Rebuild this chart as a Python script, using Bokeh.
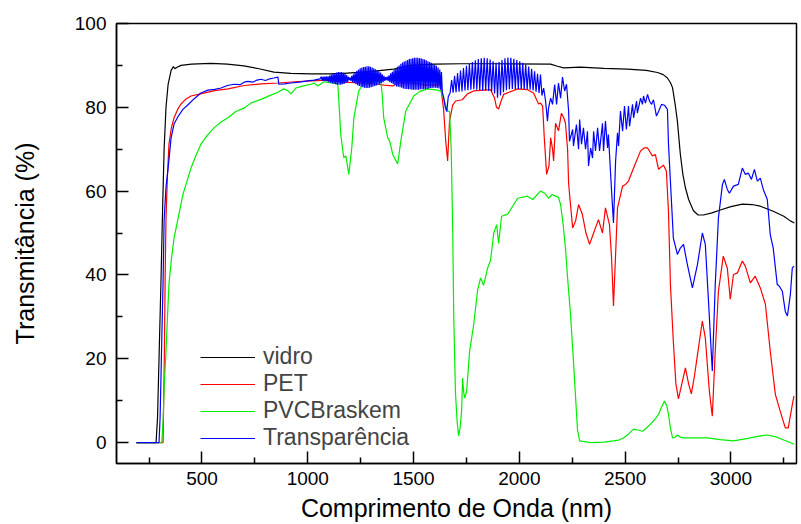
from bokeh.plotting import figure
from bokeh.models import Range1d, FixedTicker, Legend, LegendItem
from bokeh.embed import file_html
from bokeh.resources import INLINE

# ---------------- data ----------------
x_ticks = [500, 1000, 1500, 2000, 2500, 3000]
x_minor = [250, 750, 1250, 1750, 2250, 2750, 3250]
y_ticks = [0, 20, 40, 60, 80, 100]
y_minor = [10, 30, 50, 70, 90]

vidro_x = [190, 283, 290, 298, 306, 314, 321, 330, 340, 354, 365, 372, 380, 401, 450, 542, 620, 698, 770, 840,
           920, 1015, 1100, 1170, 1290, 1406, 1487, 1600, 1723, 1900, 2148, 2180, 2209, 2289, 2400, 2511, 2600,
           2653, 2680, 2700, 2715, 2724, 2737, 2747, 2761, 2773, 2785, 2800, 2823, 2845, 2870, 2910, 2950, 3000,
           3054, 3100, 3139, 3200, 3250, 3281, 3300]
vidro_y = [0, 0, 6, 22, 38, 56, 70, 80, 85.5, 88.8, 89.7, 89.2, 89.5, 90.0, 90.3, 90.5, 90.3, 89.9, 89.2, 88.4,
           88.1, 88.0, 88.0, 88.1, 88.5, 89.1, 90.0, 90.3, 90.4, 90.4, 90.3, 89.8, 89.4, 89.6, 89.3, 89.1, 88.8,
           88.3, 87.8, 87.0, 85.8, 84.7, 80.5, 76.7, 68.8, 64.0, 60.8, 58.0, 55.3, 54.3, 54.3, 54.8, 55.5, 56.3,
           56.9, 56.8, 56.4, 55.2, 54.0, 52.9, 52.4]

pet_x = [190, 316, 322, 326, 330, 337, 344, 355, 368, 385, 401, 425, 448, 509, 560, 623, 700, 780, 859, 940,
         1015, 1095, 1130, 1170, 1250, 1331, 1360, 1402, 1425, 1487, 1560, 1628, 1642, 1652, 1661, 1670, 1685,
         1699, 1730, 1755, 1784, 1864, 1883, 1892, 1902, 1914, 1926, 1992, 2039, 2067, 2091, 2100, 2110, 2118,
         2129, 2140, 2148, 2157, 2162, 2171, 2185, 2199, 2210, 2218, 2228, 2233, 2252, 2266, 2280, 2298, 2315,
         2332, 2351, 2374, 2393, 2407, 2426, 2436, 2445, 2455, 2464, 2488, 2500, 2516, 2540, 2573, 2590, 2606,
         2629, 2643, 2658, 2681, 2695, 2705, 2714, 2728, 2740, 2752, 2768, 2785, 2800, 2813, 2828, 2842, 2865,
         2879, 2898, 2912, 2926, 2941, 2964, 2983, 2997, 3012, 3031, 3054, 3068, 3092, 3115, 3139, 3163, 3186,
         3210, 3233, 3257, 3271, 3290, 3298]
pet_y = [0, 0, 20, 40, 53.6, 64, 71.2, 75, 77.5, 79.5, 80.8, 82, 82.7, 83.4, 84.0, 84.4, 85.2, 85.6, 85.8, 86.1,
         86.3, 86.5, 86.3, 86.0, 85.8, 85.5, 85.3, 85.1, 85.8, 85.8, 85.3, 85.3, 79.5, 72, 67.2, 76.7, 80.5,
         81.5, 81.8, 83.2, 83.9, 84.2, 82.2, 80.0, 79.6, 81.5, 83.1, 84.4, 84.2, 83.4, 80.8, 81.0, 80.3, 72.7,
         64.0, 66.0, 72.7, 70.0, 67.2, 76.2, 74.4, 78.6, 77.5, 76.2, 70.0, 61.7, 51.2, 52.9, 56.8, 54.4, 50.0,
         47.3, 50.0, 53.2, 50.0, 56.0, 52.0, 44.0, 32.6, 45.0, 56.0, 61.2, 61.5, 62.4, 65.5, 69.6, 70.3, 70.3,
         68.4, 68.7, 65.2, 66.2, 64.8, 55.0, 37.8, 24.0, 14.0, 10.4, 14.0, 17.8, 14.0, 11.6, 16.0, 21.0, 29.0,
         25.0, 12.3, 6.3, 21.8, 36.1, 44.5, 41.6, 34.2, 40.1, 40.5, 43.3, 42.1, 38.1, 39.7, 36.9, 33.0, 21.8,
         11.5, 7.5, 3.5, 3.5, 9.0, 11.1]

pvc_x = [190, 310, 316, 322, 330, 337, 344, 356, 368, 387, 410, 430, 448, 470, 495, 525, 557, 590, 623, 660,
         698, 731, 779, 820, 859, 887, 905, 920, 944, 980, 1015, 1029, 1048, 1076, 1100, 1123, 1142, 1147, 1156,
         1170, 1180, 1194, 1208, 1218, 1241, 1260, 1300, 1345, 1352, 1359, 1378, 1387, 1402, 1425, 1440, 1463,
         1501, 1530, 1567, 1614, 1630, 1642, 1660, 1670, 1678, 1685, 1690, 1698, 1706, 1713, 1720, 1727, 1732,
         1737, 1742, 1751, 1765, 1784, 1803, 1817, 1831, 1850, 1864, 1879, 1893, 1902, 1916, 1945, 1970, 1992,
         2039, 2063, 2100, 2120, 2138, 2155, 2171, 2185, 2195, 2207, 2218, 2230, 2242, 2255, 2266, 2275, 2285,
         2337, 2400, 2445, 2470, 2492, 2515, 2540, 2560, 2582, 2600, 2620, 2640, 2658, 2672, 2686, 2697, 2705,
         2714, 2724, 2735, 2747, 2760, 2776, 2830, 2889, 2950, 3012, 3080, 3140, 3172, 3210, 3250, 3281, 3298]
pvc_y = [0, 0, 5, 14, 21.8, 30, 37.8, 44, 48.8, 53.5, 59.2, 62.5, 65.5, 68.3, 71.2, 73.3, 75.1, 76.5, 77.5, 79.0,
         79.8, 81.0, 81.9, 82.8, 83.6, 84.4, 84.0, 83.2, 84.6, 85.1, 85.5, 85.8, 85.1, 86.1, 85.9, 85.8, 85.5, 81.5,
         73.5, 68.0, 68.4, 64.0, 70.3, 77.5, 83.9, 85.5, 86.0, 86.3, 83.0, 77.5, 72.7, 72.0, 68.7, 66.5, 72.0, 79.1,
         82.7, 83.8, 84.4, 84.1, 83.8, 82.2, 79.1, 79.0, 70.0, 51.0, 30.0, 12.0, 5.0, 1.6, 3.5, 7.5, 15.4,
         12.0, 10.6, 12.3, 21.8, 28.0, 36.5, 39.3, 37.5, 41.6, 43.5, 50.0, 52.0, 47.5, 54.0, 54.5, 56.5, 58.3,
         58.8, 58.0, 60.0, 59.5, 58.3, 59.2, 58.8, 58.5, 56.8, 52.0, 46.4, 38.0, 30.5, 20.0, 10.6, 3.0, 0.4,
         0.0, 0.1, 0.4, 0.6, 1.1, 2.0, 3.2, 3.0, 2.7, 3.4, 4.4, 5.5, 6.7, 8.5, 9.9, 8.7, 6.7,
         3.5, 1.1, 1.2, 1.8, 1.3, 1.1, 1.1, 1.1, 0.7, 0.4, 1.0, 1.6, 1.8, 1.4, 0.6, 0.0, -0.4]

# Transparência: smooth start
trans_x_a = [190, 297, 302, 306, 311, 316, 321, 330, 340, 354, 368, 387, 410, 434, 462, 495, 528, 560, 590, 620,
             651, 680, 700, 717, 740, 760, 779, 800, 820, 840, 859, 863, 890, 920, 960, 1000, 1030, 1058]
trans_y_a = [0, 0, 6, 15, 27, 38, 53, 61, 65.5, 72.7, 76, 77.8, 79.5, 80.6, 82, 83.4, 84.1, 84.3, 84.6, 85.2,
             85.5, 85.4, 86.0, 86.2, 86.0, 86.5, 86.7, 86.4, 86.8, 87.0, 87.2, 85.5, 85.6, 85.8, 86.0, 86.3, 86.5, 86.8]
# Transparência: dense interference fringes (1064-1664 nm), (wavelength, T) pairs
trans_b = [
    (1064, 87.3), (1068, 86.3), (1072, 87.3), (1076, 86.3), (1080, 87.3), (1084, 86.3), (1088, 87.4), (1092, 86.2),
    (1096, 87.4), (1100, 86.0), (1104, 87.6), (1108, 85.9), (1112, 87.8), (1116, 85.7), (1120, 88.0), (1124, 85.6),
    (1128, 88.1), (1132, 85.5), (1136, 88.3), (1140, 85.4), (1144, 88.4), (1148, 85.4), (1152, 88.4), (1156, 85.4),
    (1160, 88.4), (1164, 85.5), (1168, 88.3), (1172, 85.6), (1176, 88.0), (1180, 85.8), (1184, 87.7), (1188, 86.0),
    (1192, 87.3), (1196, 86.5), (1200, 87.1), (1204, 86.3), (1208, 87.5), (1212, 86.0), (1216, 87.9), (1220, 85.8),
    (1224, 88.3), (1228, 85.5), (1232, 88.7), (1236, 85.3), (1240, 89.0), (1244, 85.1), (1248, 89.3), (1252, 85.0),
    (1256, 89.5), (1260, 84.8), (1264, 89.6), (1268, 84.7), (1272, 89.7), (1276, 84.6), (1280, 89.8), (1284, 84.6),
    (1288, 89.8), (1292, 84.7), (1296, 89.7), (1300, 84.8), (1304, 89.5), (1308, 84.9), (1312, 89.3), (1316, 85.1),
    (1320, 89.1), (1324, 85.2), (1328, 88.9), (1332, 85.4), (1336, 88.6), (1340, 85.6), (1344, 88.3), (1348, 85.8),
    (1352, 87.9), (1356, 86.0), (1360, 87.5), (1364, 86.3), (1368, 87.2), (1372, 86.5), (1376, 87.3), (1380, 86.3),
    (1384, 87.6), (1388, 86.0), (1392, 88.1), (1396, 85.8), (1400, 88.5), (1404, 85.6), (1408, 88.9), (1412, 85.3),
    (1416, 89.3), (1420, 85.0), (1424, 89.7), (1428, 84.9), (1432, 90.0), (1436, 84.8), (1440, 90.4), (1444, 84.7),
    (1448, 90.7), (1452, 84.5), (1456, 90.9), (1460, 84.4), (1464, 91.1), (1468, 84.4), (1472, 91.3), (1476, 84.3),
    (1480, 91.5), (1484, 84.3), (1488, 91.6), (1492, 84.2), (1496, 91.7), (1500, 84.2), (1504, 91.8), (1508, 84.2),
    (1512, 91.8), (1516, 84.2), (1520, 91.8), (1524, 84.2), (1528, 91.7), (1532, 84.3), (1536, 91.7), (1540, 84.3),
    (1544, 91.5), (1548, 84.3), (1552, 91.4), (1556, 84.4), (1560, 91.2), (1564, 84.4), (1568, 91.0), (1572, 84.5),
    (1576, 90.8), (1580, 84.6), (1584, 90.6), (1588, 84.6), (1592, 90.4), (1596, 84.7), (1600, 90.1), (1604, 84.7),
    (1608, 89.9), (1612, 84.6), (1616, 89.5), (1620, 84.5), (1624, 89.0), (1628, 84.2), (1632, 88.4), (1636, 83.5),
    (1642, 82.5), (1650, 80.0), (1657, 79.0), (1664, 82.5)]
trans_x_b = [w for w, t in trans_b]
trans_y_b = [t for w, t in trans_b]
# Transparência: resolved fringes (1673-2107 nm)
trans_x_c = [1673, 1680, 1687, 1694, 1701, 1708, 1715, 1722, 1729, 1736, 1743, 1750, 1757, 1764, 1771, 1778,
             1785, 1792, 1799, 1806, 1813, 1820, 1827, 1834, 1841, 1848, 1855, 1862, 1869, 1876, 1883, 1890,
             1897, 1904, 1911, 1918, 1925, 1932, 1939, 1946, 1953, 1960, 1967, 1974, 1981, 1988, 1995, 2002,
             2009, 2016, 2023, 2030, 2037, 2044, 2051, 2058, 2065, 2072, 2079, 2086, 2093, 2100, 2107]
trans_y_c = [83.5, 86.5, 83.5, 87.5, 83.6, 88.2, 83.7, 88.8, 83.8, 89.4, 84.0, 89.9, 84.1, 90.4, 84.2, 90.8,
             84.3, 91.2, 84.2, 91.5, 84.1, 91.7, 84.0, 91.8, 84.0, 91.7, 83.9, 91.4, 83.8, 91.0, 83.3, 90.6,
             82.3, 90.8, 82.8, 91.3, 83.6, 91.7, 84.1, 91.9, 84.3, 91.8, 84.4, 91.6, 84.4, 91.3, 84.4, 91.0,
             84.4, 90.6, 84.3, 90.2, 84.3, 89.7, 84.2, 89.2, 84.0, 88.6, 83.7, 88.0, 83.4, 87.8, 82.8]
# Transparência: remaining part (2115-3298 nm)
trans_x_d = [2115, 2124, 2133, 2138, 2148, 2157, 2167, 2176, 2185, 2195, 2204, 2214, 2223, 2233, 2237, 2252,
             2256, 2270, 2280, 2285, 2294, 2303, 2313, 2322, 2327, 2337, 2346, 2351, 2360, 2370, 2379, 2393,
             2398, 2407, 2417, 2421, 2436, 2445, 2455, 2464, 2469, 2478, 2488, 2497, 2506, 2516, 2521, 2535,
             2540, 2554, 2558, 2573, 2582, 2587, 2596, 2606, 2615, 2625, 2634, 2648, 2658, 2672, 2686, 2700,
             2705, 2719, 2728, 2747, 2761, 2776, 2794, 2818, 2842, 2865, 2879, 2894, 2912, 2926, 2941, 2960,
             2969, 2983, 2993, 3012, 3035, 3054, 3068, 3082, 3097, 3111, 3125, 3139, 3153, 3172, 3186, 3200,
             3219, 3229, 3243, 3257, 3267, 3281, 3290, 3298]
trans_y_d = [84.6, 81.5, 76.7, 79.8, 82.2, 80.7, 85.4, 80.7, 85.8, 82.2, 87.2, 83.9, 85.5, 79.1, 71.9, 74.7,
             70.8, 75.9, 70.0, 77.1, 71.2, 75.1, 70.0, 74.3, 66.0, 70.3, 67.9, 74.3, 69.6, 75.1, 69.6, 76.2,
             69.6, 76.7, 70.3, 73.5, 60.0, 52.4, 67.2, 73.9, 70.8, 79.1, 74.3, 80.3, 74.7, 80.3, 75.5, 80.7,
             77.5, 81.5, 78.6, 82.2, 80.7, 82.7, 81.0, 83.1, 81.5, 80.7, 81.8, 77.9, 79.0, 80.7, 80.5, 79.5,
             71.2, 57.6, 48.8, 44.9, 46.4, 47.3, 42.5, 36.9, 42.5, 50.0, 47.3, 33.8, 17.1, 37.7, 53.6, 61.6,
             62.8, 60.4, 59.5, 61.2, 61.6, 65.5, 64.0, 64.3, 62.8, 65.2, 62.4, 63.1, 60.4, 58.0, 49.6, 46.4,
             37.7, 37.3, 36.1, 31.3, 30.2, 35.3, 41.6, 42.1]

trans_x = trans_x_a + trans_x_b + trans_x_c + trans_x_d
trans_y = trans_y_a + trans_y_b + trans_y_c + trans_y_d

labels = ["vidro", "PET", "PVCBraskem", "Transparência"]
colors = ["#000000", "#ff0000", "#00ee00", "#0000ff"]
x_title = "Comprimento de Onda (nm)"
y_title = "Transmitância (%)"

# ---------------- figure ----------------
FONT = "Liberation Sans"
p = figure(width=801, height=524, output_backend="svg", toolbar_location=None,
           x_range=Range1d(96, 3310), y_range=Range1d(-5, 100),
           min_border_left=116, min_border_right=5, min_border_top=23, min_border_bottom=61)
p.grid.visible = False
p.outline_line_color = "black"
p.outline_line_width = 1.5
p.background_fill_color = "white"
p.border_fill_color = "white"

for ax in (p.xaxis[0], p.yaxis[0]):
    ax.major_tick_in = 12
    ax.major_tick_out = 0
    ax.minor_tick_in = 6
    ax.minor_tick_out = 0
    ax.axis_line_width = 1.5
    ax.major_tick_line_width = 1.5
    ax.minor_tick_line_width = 1.5
    ax.major_label_text_font = FONT
    ax.major_label_text_font_size = "19px"
    ax.major_label_text_color = "black"
    ax.axis_label_text_font = FONT
    ax.axis_label_text_font_size = "25px"
    ax.axis_label_text_font_style = "normal"
    ax.axis_label_text_color = "black"

p.xaxis.ticker = FixedTicker(ticks=x_ticks, minor_ticks=x_minor)
p.yaxis.ticker = FixedTicker(ticks=y_ticks, minor_ticks=y_minor)
p.xaxis.axis_label = x_title
p.yaxis.axis_label = y_title
p.xaxis.major_label_standoff = 8
p.xaxis.axis_label_standoff = 6
p.yaxis.major_label_standoff = 10
p.yaxis.axis_label_standoff = 33

r_vidro = p.line(vidro_x, vidro_y, line_color=colors[0], line_width=1.2)
r_pet = p.line(pet_x, pet_y, line_color=colors[1], line_width=1.2)
r_pvc = p.line(pvc_x, pvc_y, line_color=colors[2], line_width=1.2)
r_tr = p.line(trans_x, trans_y, line_color=colors[3], line_width=1.2)

legend = Legend(items=[LegendItem(label=labels[0], renderers=[r_vidro]),
                       LegendItem(label=labels[1], renderers=[r_pet]),
                       LegendItem(label=labels[2], renderers=[r_pvc]),
                       LegendItem(label=labels[3], renderers=[r_tr])],
                location=(84, 12), border_line_alpha=0, background_fill_alpha=0,
                glyph_width=55, glyph_height=18, label_height=18, spacing=0,
                padding=0, margin=0, label_standoff=8,
                label_text_font=FONT, label_text_font_size="23px")
p.add_layout(legend)

open("out.html", "w").write(file_html(p, INLINE))
